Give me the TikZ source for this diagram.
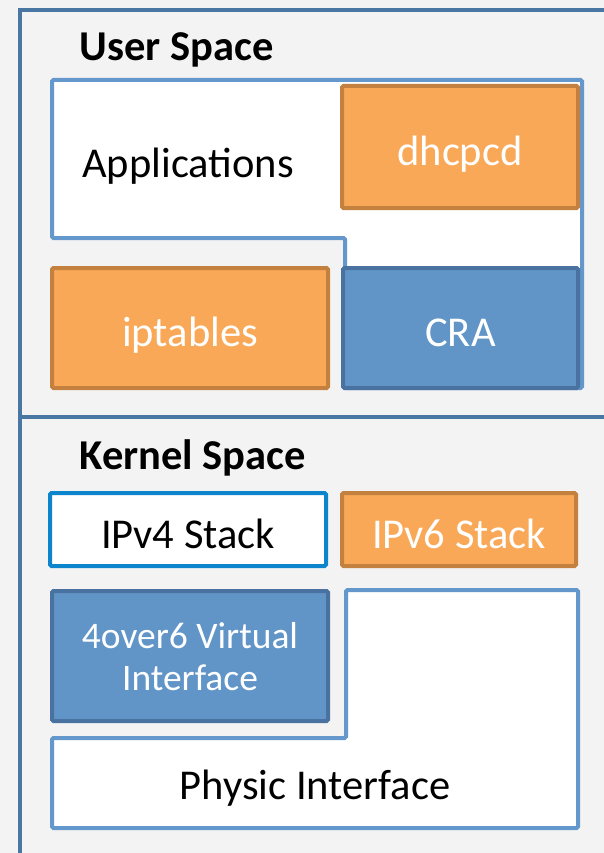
\documentclass[tikz,border=0pt]{standalone}
\usepackage{fontspec}
\setmainfont{Carlito}
\definecolor{bggray}{HTML}{F3F3F3}
\definecolor{framebl}{HTML}{4A76A4}
\definecolor{orfill}{HTML}{F9A857}
\definecolor{ordraw}{HTML}{C4803F}
\definecolor{blfill}{HTML}{6195C8}
\definecolor{bldraw}{HTML}{4A72A0}
\definecolor{ltdraw}{HTML}{6497CB}
\definecolor{v4draw}{HTML}{0D85CC}
\begin{document}
\begin{tikzpicture}[x=1pt,y=-1pt,
  orangebox/.style={draw=ordraw,fill=orfill,line width=4pt,rounded corners=1.5pt,text=white,font=\fontsize{42.5}{46}\selectfont},
  bluebox/.style={draw=bldraw,fill=blfill,line width=4pt,rounded corners=1.5pt,text=white,font=\fontsize{42.5}{46}\selectfont},
  whitebox/.style={draw=v4draw,fill=white,line width=4pt,rounded corners=1.5pt,font=\fontsize{42.5}{46}\selectfont},
  oneline/.style={text height=37pt,text depth=0pt},
  arealine/.style={draw=ltdraw,fill=white,line width=4pt,rounded corners=1.5pt},
  title/.style={anchor=base west,font=\bfseries\fontsize{42.5}{46}\selectfont},
  plain/.style={text depth=0pt,font=\fontsize{42.5}{46}\selectfont}]
\clip (0,0) rectangle (604,853);
\fill[bggray] (0,0) rectangle (604,853);
% outer frame and divider
\draw[framebl,line width=4pt] (20,900) -- (20,10) -- (660,10);
\draw[framebl,line width=4pt] (20,417) -- (660,417);

% user space
\node[title] (user) at (76,61) {User Space};
\draw[arealine] (52,80) -- (582,80) -- (582,388) -- (345,388) -- (345,238) -- (52,238) -- cycle;
\node[plain] (apps) at (188,163) {Applications};
\node[orangebox,oneline,minimum width=236,minimum height=122] (dhcpcd) at (460,147) {dhcpcd};
\node[orangebox,oneline,minimum width=276,minimum height=120] (iptables) at (190,328) {iptables};
\node[bluebox,oneline,minimum width=235,minimum height=120] (cra) at (460.5,328) {CRA};

% kernel space
\node[title] (kernel) at (76,469) {Kernel Space};
\node[whitebox,oneline,minimum width=276,minimum height=73] (ipv4) at (188,529.5) {IPv4 Stack};
\node[orangebox,oneline,minimum width=234,minimum height=73] (ipv6) at (459,529.5) {IPv6 Stack};
\node[bluebox,text depth=0pt,minimum width=276,minimum height=130,align=center,font=\fontsize{37.5}{42}\selectfont] (vif) at (190,656) {4over6 Virtual\\Interface};
\draw[arealine] (346,590) -- (578,590) -- (578,828) -- (52,828) -- (52,738) -- (346,738) -- cycle;
\node[plain] (phys) at (315,785) {Physic Interface};
\end{tikzpicture}
\end{document}
